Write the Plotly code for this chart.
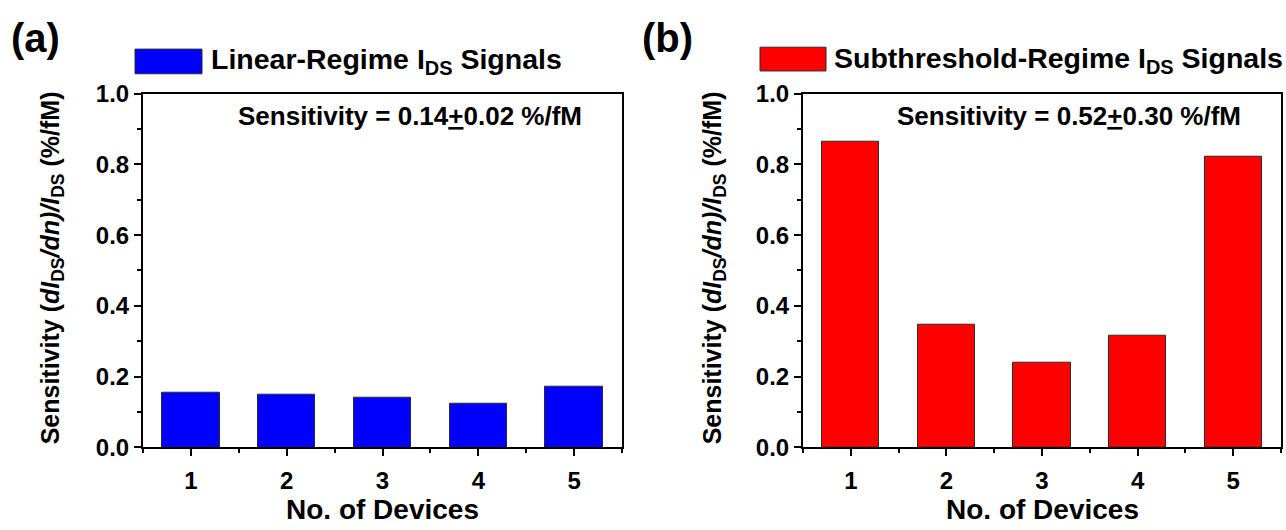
import plotly.graph_objects as go

# ---- data ----
devices = [1, 2, 3, 4, 5]
linear_sens = [0.153, 0.149, 0.139, 0.122, 0.172]
subth_sens = [0.865, 0.346, 0.238, 0.315, 0.823]
linear_label = "Linear-Regime I<sub>DS</sub> Signals"
subth_label = "Subthreshold-Regime I<sub>DS</sub> Signals"
linear_note = "Sensitivity = 0.14<u>+</u>0.02 %/fM"
subth_note = "Sensitivity = 0.52<u>+</u>0.30 %/fM"
x_title = "No. of Devices"
y_title = "Sensitivity (<i>dI</i><sub>DS</sub><i>/dn)/I</i><sub>DS</sub> (%/fM)"

W, H = 1286, 530
def px(x):
    return x / W
def py(y):
    return 1 - y / H

FONT = "Liberation Sans, Arial, sans-serif"
BLUE = "#0000FF"
RED = "#FF0000"
EDGE = "#2b2b2b"

fig = go.Figure()
fig.add_trace(go.Bar(x=devices, y=linear_sens, width=0.6,
                     marker=dict(color=BLUE, line=dict(color=EDGE, width=1)),
                     xaxis="x", yaxis="y", showlegend=False, name="Linear-Regime"))
fig.add_trace(go.Bar(x=devices, y=subth_sens, width=0.6,
                     marker=dict(color=RED, line=dict(color=EDGE, width=1)),
                     xaxis="x2", yaxis="y2", showlegend=False, name="Subthreshold-Regime"))

tickfont = dict(family=FONT, size=24, color="black", weight="bold")
common = dict(showline=True, linecolor="black", linewidth=2, mirror=True,
              ticks="outside", ticklen=7, tickwidth=2, tickcolor="black",
              showgrid=False, zeroline=False, tickfont=tickfont, fixedrange=True)

xcommon = dict(common, range=[0.5, 5.5], tickmode="linear", tick0=1, dtick=1,
               ticklabelstandoff=4,
               minor=dict(ticks="outside", dtick=0.5, tick0=0.5, ticklen=4,
                          tickwidth=2, tickcolor="black"))
ycommon = dict(common, range=[0, 1], tickmode="linear", tick0=0, dtick=0.2,
               tickformat=".1f",
               minor=dict(ticks="outside", dtick=0.1, tick0=0, ticklen=4,
                          tickwidth=2, tickcolor="black"))

ydom = [py(456.5), py(84)]
fig.update_layout(
    width=W, height=H, autosize=False,
    margin=dict(l=0, r=0, t=0, b=0),
    paper_bgcolor="white", plot_bgcolor="white",
    xaxis=dict(xcommon, domain=[px(143), px(622)], anchor="y"),
    yaxis=dict(ycommon, domain=ydom, anchor="x"),
    xaxis2=dict(xcommon, domain=[px(803), px(1281)], anchor="y2"),
    yaxis2=dict(ycommon, domain=ydom, anchor="x2"),
    bargap=0,
)

bold = lambda s: dict(family=FONT, size=s, color="black", weight="bold")
ann = []
# panel labels
ann.append(dict(text="(a)", x=px(35), y=py(25), font=bold(40)))
ann.append(dict(text="(b)", x=px(667), y=py(25), font=bold(40)))
# legend texts
ann.append(dict(text=linear_label, x=px(209), y=py(50), xanchor="left", font=bold(28.5)))
ann.append(dict(text=subth_label, x=px(832), y=py(48), xanchor="left", font=bold(28.5)))
# sensitivity notes
ann.append(dict(text=linear_note, x=px(410), y=py(107), font=bold(26)))
ann.append(dict(text=subth_note, x=px(1069), y=py(108), font=bold(26)))
# axis titles
ann.append(dict(text=x_title, x=px(382), y=py(522), font=bold(28)))
ann.append(dict(text=x_title, x=px(1042), y=py(522), font=bold(28)))
ann.append(dict(text=y_title, x=px(52), y=py(268), textangle=-90, font=bold(25)))
ann.append(dict(text=y_title, x=px(714), y=py(268), textangle=-90, font=bold(25)))
for a in ann:
    a.setdefault("xanchor", "center")
    a.setdefault("yanchor", "middle")
    a.update(xref="paper", yref="paper", showarrow=False)
fig.update_layout(annotations=ann)

# legend swatches
fig.update_layout(shapes=[
    dict(type="rect", xref="paper", yref="paper", x0=px(135), x1=px(202),
         y0=py(63), y1=py(37), fillcolor=BLUE, line=dict(color=EDGE, width=1)),
    dict(type="rect", xref="paper", yref="paper", x0=px(760), x1=px(826),
         y0=py(60), y1=py(35), fillcolor=RED, line=dict(color=EDGE, width=1)),
])

fig.write_html("out.html")
